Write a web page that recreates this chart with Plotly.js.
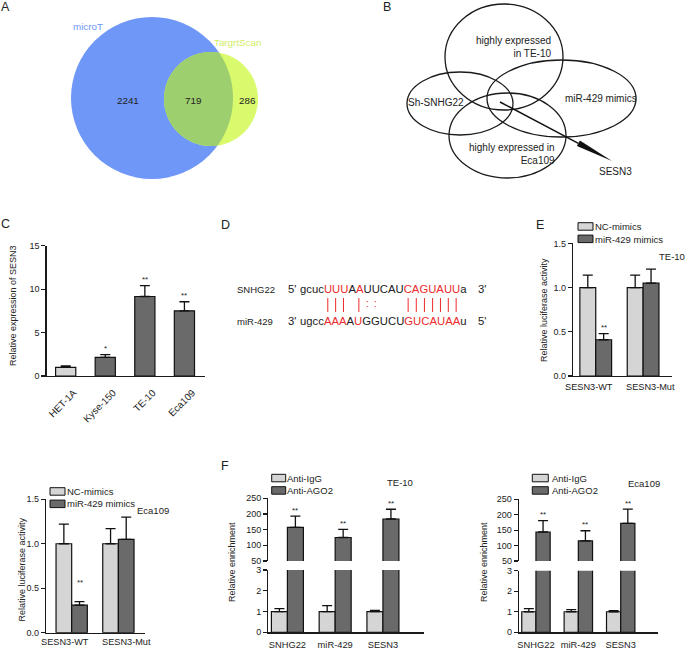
<!DOCTYPE html>
<html><head><meta charset="utf-8">
<script src="https://cdn.plot.ly/plotly-3.0.1.min.js"></script>
<style>html,body{margin:0;padding:0;background:#fff}#chart{width:685px;height:650px}</style>
</head><body><div id="chart"></div>
<script>
// ================= DATA =================
// A: Venn of predicted targets
const vennSets = ['microT', 'TargrtScan'];
const vennCounts = [2241, 719, 286];           // microT only, both, TargrtScan only
// B: intersection diagram
const intersectSets = ['highly expressed<br>in TE-10', 'Sh-SNHG22', 'miR-429 mimics', 'highly expressed in<br>Eca109'];
const intersectResult = 'SESN3';
// C: SESN3 expression
const cellLines = ['HET-1A', 'Kyse-150', 'TE-10', 'Eca109'];
const sesn3Expr = [1.0, 2.15, 9.15, 7.5];
const sesn3Err = [0.15, 0.3, 1.25, 1.05];
const sesn3Sig = ['', '*', '**', '**'];
// D: binding site
const seqNames = ['SNHG22', 'miR-429'];
const seqTop = 'gcucUUUAAUUCAUCAGUAUUa';
const seqBottom = 'ugccAAAAUGGUCUGUCAUAAu';
const seqEnds = [["5'", "3'"], ["3'", "5'"]];
const seedRed = '0000111010000011111110';
const seedPairs = '    ||| |::   ||||||| ';
// E / bottom-left: luciferase
const lucGroups = ['SESN3-WT', 'SESN3-Mut'];
const lucSeries = ['NC-mimics', 'miR-429 mimics'];
const lucTE10_NC = [1.0, 1.0];
const lucTE10_NC_err = [0.14, 0.14];
const lucTE10_miR = [0.41, 1.05];
const lucTE10_miR_err = [0.07, 0.16];
const lucEca_NC = [1.0, 1.0];
const lucEca_NC_err = [0.22, 0.17];
const lucEca_miR = [0.31, 1.05];
const lucEca_miR_err = [0.04, 0.25];
const lucSig = ['**', ''];
// F: RIP
const ripTargets = ['SNHG22', 'miR-429', 'SESN3'];
const ripSeries = ['Anti-IgG', 'Anti-AGO2'];
const ripTE10_IgG = [1.0, 1.0, 1.0];
const ripTE10_IgG_err = [0.14, 0.28, 0.05];
const ripTE10_AGO2 = [157, 125, 184];
const ripTE10_AGO2_err = [36, 26, 31];
const ripEca_IgG = [1.0, 1.0, 1.0];
const ripEca_IgG_err = [0.15, 0.1, 0.05];
const ripEca_AGO2 = [144, 115, 172];
const ripEca_AGO2_err = [37, 33, 46];
const ripSig = ['**', '**', '**'];
const cellTags = ['TE-10', 'Eca109'];

// ================= STYLE / HELPERS =================
const W = 685, H = 650;
const FONT = '"Liberation Sans", Arial, Helvetica, sans-serif';
const TXT = '#222';
const LIGHT = '#d5d5d5', DARK = '#6a6a6a', EDGE = '#111';
const RED = '#ec2c2c';
const BLUE = '#6f97f7', YEL = '#d9fa6c', OVER = '#9ecf6f';
const px2x = p => p / W, px2y = p => 1 - p / H;
const shapes = [], annotations = [], traces = [];
function text(xp, yp, t, size, opts) {
  annotations.push(Object.assign({xref: 'paper', yref: 'paper', x: px2x(xp), y: px2y(yp), text: t,
    showarrow: false, borderpad: 0, borderwidth: 0, xanchor: 'center', yanchor: 'middle',
    font: {family: FONT, size: size, color: TXT}}, opts || {}));
}
function font(size, color) { return {family: FONT, size: size, color: color || TXT}; }

// panel letters
[['A', 5.5, 7], ['B', 387, 7], ['C', 5, 224], ['D', 225, 225], ['E', 540, 225], ['F', 225, 466]]
  .forEach(l => text(l[1], l[2], l[0], 12.5));

// ================= A: Venn =================
const vA = [{cx: 152, cy: 98, r: 81, color: BLUE}, {cx: 211, cy: 99, r: 47, color: YEL}];
vA.forEach(c => shapes.push({type: 'circle', xref: 'paper', yref: 'paper',
  x0: px2x(c.cx - c.r), x1: px2x(c.cx + c.r), y0: px2y(c.cy + c.r), y1: px2y(c.cy - c.r),
  fillcolor: c.color, line: {width: 0}}));
function circleIntersect(a, b) {
  const dx = b.cx - a.cx, dy = b.cy - a.cy, d = Math.hypot(dx, dy);
  const aa = (a.r * a.r - b.r * b.r + d * d) / (2 * d), h = Math.sqrt(a.r * a.r - aa * aa);
  const mx = a.cx + aa * dx / d, my = a.cy + aa * dy / d;
  return [[mx + h * dy / d, my - h * dx / d], [mx - h * dy / d, my + h * dx / d]];
}
function arc(c, p, q, toward, n) {
  const norm = v => ((v % (2 * Math.PI)) + 2 * Math.PI) % (2 * Math.PI);
  const ta = Math.atan2(p[1] - c.cy, p[0] - c.cx), tb = Math.atan2(q[1] - c.cy, q[0] - c.cx);
  const tv = Math.atan2(toward[1] - c.cy, toward[0] - c.cx);
  let d = norm(tb - ta); if (norm(tv - ta) > d) d = d - 2 * Math.PI;
  const pts = []; for (let i = 0; i <= n; i++) { const t = ta + d * i / n; pts.push([c.cx + c.r * Math.cos(t), c.cy + c.r * Math.sin(t)]); }
  return pts;
}
const [I1, I2] = circleIntersect(vA[0], vA[1]);
const lens = arc(vA[1], I1, I2, [vA[0].cx, vA[0].cy], 48).concat(arc(vA[0], I2, I1, [vA[1].cx, vA[1].cy], 48));
shapes.push({type: 'path', xref: 'paper', yref: 'paper', fillcolor: OVER, line: {width: 0},
  path: 'M' + lens.map(p => px2x(p[0]).toFixed(5) + ',' + px2y(p[1]).toFixed(5)).join('L') + 'Z'});
text(88, 26, vennSets[0], 9.8, {font: font(9.8, BLUE)});
text(237, 43, vennSets[1], 9.8, {font: font(9.8, '#d0ee66')});
[[128, 100], [193, 100], [247, 100]].forEach((p, i) => text(p[0], p[1], String(vennCounts[i]), 9.8));

// ================= B: intersection =================
const vB = [[445, 4, 563, 110], [407, 72, 513, 135], [487, 60, 636, 137], [449, 93, 566, 178]];
vB.forEach(e => shapes.push({type: 'circle', xref: 'paper', yref: 'paper',
  x0: px2x(e[0]), x1: px2x(e[2]), y0: px2y(e[3]), y1: px2y(e[1]), line: {color: '#1a1a1a', width: 1.3}}));
text(551, 47, intersectSets[0], 10, {xanchor: 'right', align: 'right'});
text(408, 102, intersectSets[1], 10, {xanchor: 'left'});
text(600.5, 99, intersectSets[2], 10);
text(555, 154, intersectSets[3], 10, {xanchor: 'right', align: 'right'});
text(615, 171, intersectResult, 10);
(function () {
  const s = [500, 102], e = [612, 161];
  const dx = e[0] - s[0], dy = e[1] - s[1], L = Math.hypot(dx, dy), ux = dx / L, uy = dy / L;
  const hl = 38, hw = 3.2;
  const b = [e[0] - ux * hl, e[1] - uy * hl];
  shapes.push({type: 'line', xref: 'paper', yref: 'paper', x0: px2x(s[0]), y0: px2y(s[1]), x1: px2x(b[0]), y1: px2y(b[1]), line: {color: '#111', width: 1.5}});
  const p1 = [b[0] - uy * hw, b[1] + ux * hw], p2 = [b[0] + uy * hw, b[1] - ux * hw];
  shapes.push({type: 'path', xref: 'paper', yref: 'paper', fillcolor: '#111', line: {width: 0},
    path: 'M' + [p1, e, p2].map(p => px2x(p[0]) + ',' + px2y(p[1])).join('L') + 'Z'});
})();

// ================= D: binding site =================
(function () {
  const seqX = 300, nameX = 237, end1X = 288, end2X = 478, rowY = [289, 321], SZ = 11.3;
  const ctx = document.createElement('canvas').getContext('2d');
  ctx.font = SZ + 'px "Liberation Sans"';
  const centers = s => s.split('').map((ch, i) => seqX + ctx.measureText(s.slice(0, i)).width + ctx.measureText(ch).width / 2);
  const colored = s => s.split('').map((ch, i) => seedRed[i] === '1' ? '<span style="color:' + RED + '">' + ch + '</span>' : ch).join('');
  [seqTop, seqBottom].forEach((s, r) => {
    text(nameX, rowY[r], seqNames[r], 9.5, {xanchor: 'left'});
    text(end1X, rowY[r], seqEnds[r][0], SZ, {xanchor: 'left'});
    text(seqX, rowY[r], colored(s), SZ, {xanchor: 'left'});
    text(end2X, rowY[r], seqEnds[r][1], SZ, {xanchor: 'left'});
  });
  const cT = centers(seqTop), cB = centers(seqBottom);
  seedPairs.split('').forEach((m, i) => {
    const x = (cT[i] + cB[i]) / 2;
    if (m === '|') shapes.push({type: 'line', xref: 'paper', yref: 'paper', x0: px2x(x), x1: px2x(x), y0: px2y(298), y1: px2y(312), line: {color: RED, width: 1}});
    else if (m === ':') text(x, 304, ':', 10, {font: font(10, RED)});
  });
})();

// ================= BAR PANELS =================
function barTrace(xa, ya, cats, vals, errs, color, name, width) {
  const t = {type: 'bar', name: name, xaxis: xa, yaxis: ya, x: cats, y: vals,
    marker: {color: color, line: {color: EDGE, width: 1.2}},
    error_y: {type: 'data', symmetric: false, array: errs, arrayminus: vals.map(() => 0), color: EDGE, thickness: 1.3, width: 5},
    hoverinfo: 'skip', cliponaxis: true};
  if (width) t.width = width;
  return t;
}
const BARGAP = 0.33, OFF = (1 - BARGAP) / 4;
function stars(xa, ya, sig, vals, errs, off, shift) {
  sig.forEach((s, i) => { if (s) annotations.push({xref: xa, yref: ya, x: i + off, y: vals[i] + errs[i], text: s,
    showarrow: false, yanchor: 'middle', yshift: shift, font: font(8)}); });
}
function legendBox(x0, y0, names, colors, textX, bw) {
  names.forEach((n, i) => {
    const y = y0 + i * 12.4;
    shapes.push({type: 'rect', xref: 'paper', yref: 'paper', x0: px2x(x0), x1: px2x(x0 + bw), y0: px2y(y + 7.5), y1: px2y(y),
      fillcolor: colors[i], line: {color: EDGE, width: 1}});
    text(textX, y + 3.9, n, 9.5, {xanchor: 'left'});
  });
}
function ytitle(xp, yp, t) { text(xp, yp, t, 9, {textangle: -90}); }
// group labels for luciferase panels (spread slightly beyond the bar groups, as in the figure)
const LUC_LABEL_SHIFT = [-0.14, 0.165];
function groupLabels(xa, cats, yp) {
  cats.forEach((c, i) => annotations.push({xref: xa, yref: 'paper', x: i + LUC_LABEL_SHIFT[i], y: px2y(yp), text: c,
    showarrow: false, xanchor: 'center', yanchor: 'middle', font: font(9.2)}));
}

// C
traces.push(barTrace('x', 'y', cellLines, sesn3Expr, sesn3Err, cellLines.map((c, i) => i === 0 ? LIGHT : DARK), 'SESN3', 0.51));
stars('x', 'y', sesn3Sig, sesn3Expr, sesn3Err, 0, 6);
ytitle(13, 306, 'Relative expression of SESN3');

// E (TE-10 luciferase)
traces.push(barTrace('x2', 'y2', lucGroups, lucTE10_NC, lucTE10_NC_err, LIGHT, lucSeries[0]));
traces.push(barTrace('x2', 'y2', lucGroups, lucTE10_miR, lucTE10_miR_err, DARK, lucSeries[1]));
stars('x2', 'y2', lucSig, lucTE10_miR, lucTE10_miR_err, OFF, 6);
legendBox(578, 222.7, lucSeries, [LIGHT, DARK], 595, 15);
ytitle(544, 310, 'Relative luciferase activity');
text(672, 256, cellTags[0], 9.5);
groupLabels('x2', lucGroups, 387);

// bottom-left (Eca109 luciferase)
traces.push(barTrace('x3', 'y3', lucGroups, lucEca_NC, lucEca_NC_err, LIGHT, lucSeries[0]));
traces.push(barTrace('x3', 'y3', lucGroups, lucEca_miR, lucEca_miR_err, DARK, lucSeries[1]));
stars('x3', 'y3', lucSig, lucEca_miR, lucEca_miR_err, OFF, 19);
legendBox(50, 487.7, lucSeries, [LIGHT, DARK], 67, 15);
ytitle(21.5, 570, 'Relative luciferase activity');
text(152.5, 510, cellTags[1], 9.5);
groupLabels('x3', lucGroups, 641.5);

// F TE-10 (broken axis: lower y4, upper y5)
[['y4'], ['y5']].forEach(a => {
  traces.push(barTrace('x4', a[0], ripTargets, ripTE10_IgG, ripTE10_IgG_err, LIGHT, ripSeries[0]));
  traces.push(barTrace('x4', a[0], ripTargets, ripTE10_AGO2, ripTE10_AGO2_err, DARK, ripSeries[1]));
});
stars('x4', 'y5', ripSig, ripTE10_AGO2, ripTE10_AGO2_err, OFF, 6);
legendBox(271.7, 474.3, ripSeries, [LIGHT, DARK], 287, 14);
ytitle(232, 562, 'Relative enrichment');
text(399.5, 482, cellTags[0], 9.5);

// F Eca109 (lower y6, upper y7)
[['y6'], ['y7']].forEach(a => {
  traces.push(barTrace('x5', a[0], ripTargets, ripEca_IgG, ripEca_IgG_err, LIGHT, ripSeries[0]));
  traces.push(barTrace('x5', a[0], ripTargets, ripEca_AGO2, ripEca_AGO2_err, DARK, ripSeries[1]));
});
stars('x5', 'y7', ripSig, ripEca_AGO2, ripEca_AGO2_err, OFF, 6);
legendBox(532.3, 474.3, ripSeries, [LIGHT, DARK], 552, 16);
ytitle(484, 562, 'Relative enrichment');
text(643.7, 483, cellTags[1], 9.5);

// ================= AXES =================
const axBase = {showgrid: false, zeroline: false, showline: true, linecolor: '#1a1a1a', linewidth: 1.3,
  tickfont: font(9), fixedrange: true};
function xax(l, r, range, anchor, extra) {
  return Object.assign({}, axBase, {domain: [px2x(l), px2x(r)], range: range, anchor: anchor, type: 'category',
    ticks: 'outside', ticklen: 3, tickcolor: 'rgba(0,0,0,0)', tickangle: 0, tickfont: font(9.3)}, extra || {});
}
function yax(bot, top, range, dtick, anchor, extra) {
  return Object.assign({}, axBase, {domain: [px2y(bot), px2y(top)], range: range, dtick: dtick, anchor: anchor,
    ticks: 'outside', ticklen: 4, tickwidth: 1.2, tickcolor: '#1a1a1a'}, extra || {});
}
const layout = {
  width: W, height: H, margin: {l: 0, r: 0, t: 0, b: 0}, paper_bgcolor: '#fff', plot_bgcolor: 'rgba(0,0,0,0)',
  showlegend: false, barmode: 'group', bargap: BARGAP, bargroupgap: 0,
  font: font(9),
  xaxis: xax(46.7, 205, [-0.48, 3.52], 'y', {tickangle: -45, ticklen: 6, ticklabelshift: 8, tickfont: font(9.8)}),
  yaxis: yax(376, 245.7, [0, 15], 5, 'x'),
  xaxis2: xax(573, 672, [-0.48, 1.61], 'y2', {showticklabels: false}),
  yaxis2: yax(376, 243.4, [0, 1.5], 0.5, 'x2', {tickformat: '.1f'}),
  xaxis3: xax(46, 145, [-0.55, 1.57], 'y3', {showticklabels: false}),
  yaxis3: yax(632.7, 499.3, [0, 1.5], 0.5, 'x3', {tickformat: '.1f'}),
  xaxis4: xax(268.3, 424, [-0.4, 2.86], 'y4'),
  yaxis4: yax(632.3, 570, [0, 3], 1, 'x4'),
  yaxis5: yax(561, 498.3, [50, 250], 50, 'x4', {tick0: 50}),
  xaxis5: xax(519, 658, [-0.4, 2.88], 'y6'),
  yaxis6: yax(632.3, 570.7, [0, 3], 1, 'x5'),
  yaxis7: yax(561, 499.3, [50, 250], 50, 'x5', {tick0: 50}),
  shapes: shapes, annotations: annotations
};
Plotly.newPlot('chart', traces, layout, {staticPlot: true, displayModeBar: false});
</script></body></html>
